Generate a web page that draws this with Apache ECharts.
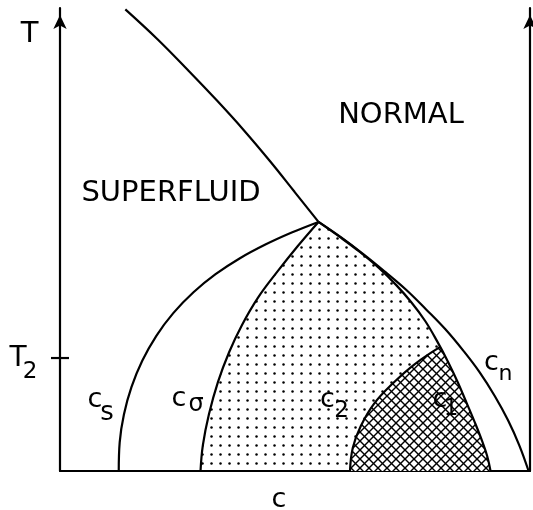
<!DOCTYPE html>
<html>
<head>
<meta charset="utf-8">
<script src="https://cdn.jsdelivr.net/npm/echarts@6/dist/echarts.min.js"></script>
<style>
  html, body { margin: 0; padding: 0; background: #fff; }
  #chart { width: 533px; height: 510px; }
</style>
</head>
<body>
<div id="chart"></div>
<script>
// Phase diagram: concentration c (x) against temperature T (y), both on a 0..1 scale.
// Each boundary runs from the tricritical point downward (or from the top down to it).
const lambdaLine = [[0.139, 0.997], [0.208, 0.932], [0.272, 0.866], [0.334, 0.800],
                    [0.392, 0.735], [0.447, 0.669], [0.499, 0.603], [0.550, 0.538]];
const csCurve = [[0.550, 0.538], [0.493, 0.515], [0.437, 0.489], [0.382, 0.459], [0.331, 0.425],
                 [0.284, 0.386], [0.241, 0.341], [0.205, 0.292], [0.175, 0.238], [0.152, 0.181],
                 [0.136, 0.122], [0.127, 0.062], [0.125, 0.000]];
const cSigmaCurve = [[0.550, 0.538], [0.506, 0.486], [0.462, 0.430], [0.421, 0.374], [0.387, 0.315],
                     [0.360, 0.257], [0.336, 0.192], [0.317, 0.123], [0.304, 0.056], [0.299, 0.000]];
const cnCurve = [[0.550, 0.538], [0.599, 0.504], [0.646, 0.468], [0.692, 0.430], [0.737, 0.391],
                 [0.779, 0.349], [0.820, 0.306], [0.858, 0.260], [0.893, 0.213], [0.925, 0.162],
                 [0.953, 0.110], [0.977, 0.056], [0.997, 0.000]];
const c2Curve = [[0.550, 0.538], [0.596, 0.505], [0.638, 0.473], [0.679, 0.438], [0.715, 0.402],
                 [0.747, 0.365], [0.777, 0.324], [0.802, 0.281], [0.826, 0.235], [0.847, 0.190],
                 [0.866, 0.145], [0.883, 0.104], [0.898, 0.065], [0.909, 0.032], [0.916, 0.000]];
const c1Curve = [[0.809, 0.268], [0.755, 0.231], [0.709, 0.190], [0.668, 0.145], [0.640, 0.097],
                 [0.623, 0.050], [0.617, 0.000]];
const tickT2 = [0.244];

const FONT = '"DejaVu Sans", sans-serif';
const INK = '#000';

// Fill patterns: a square dot screen and a diagonal cross-hatch.
function dotPattern() {
  const cv = document.createElement('canvas');
  cv.width = 9; cv.height = 9;
  const g = cv.getContext('2d');
  g.fillStyle = INK;
  g.beginPath();
  g.arc(4.5, 4.5, 1.25, 0, Math.PI * 2);
  g.fill();
  return { image: cv, repeat: 'repeat' };
}
function hatchPattern() {
  const p = 9;
  const cv = document.createElement('canvas');
  cv.width = p; cv.height = p;
  const g = cv.getContext('2d');
  g.fillStyle = '#fff';
  g.fillRect(0, 0, p, p);
  g.strokeStyle = INK;
  g.lineWidth = 1.4;
  for (let k = -1; k <= 1; k++) {
    g.beginPath(); g.moveTo(k * p, 0); g.lineTo(k * p + p, p); g.stroke();
    g.beginPath(); g.moveTo(k * p + p, 0); g.lineTo(k * p, p); g.stroke();
  }
  return { image: cv, repeat: 'repeat' };
}

// Dotted two-phase region: between c_sigma and c2.
const dottedRegion = cSigmaCurve.concat(c2Curve.slice().reverse());
// Cross-hatched region: under c1, bounded on the right by c2.
const hatchedRegion = c1Curve.concat(
  c2Curve.filter(p => p[1] < c1Curve[0][1]).reverse()
);

function regionSeries(points, fill, z) {
  return {
    type: 'custom',
    silent: true,
    z: z,
    clip: false,
    data: [[0, 0]],
    renderItem: function (params, api) {
      return {
        type: 'polygon',
        shape: { points: points.map(p => api.coord(p)) },
        style: { fill: fill, stroke: null }
      };
    }
  };
}

function boundary(data) {
  return {
    type: 'line',
    data: data,
    smooth: 0.4,
    showSymbol: false,
    clip: false,
    silent: true,
    z: 5,
    lineStyle: { color: INK, width: 2.2 }
  };
}

const hiddenAxisParts = {
  axisTick: { show: false },
  axisLabel: { show: false },
  splitLine: { show: false }
};

const chart = echarts.init(document.getElementById('chart'), null, { renderer: 'canvas' });
chart.setOption({
  animation: false,
  backgroundColor: '#fff',
  grid: { left: 60, right: 3, top: 8, bottom: 39 },
  xAxis: Object.assign({
    type: 'value', min: 0, max: 1,
    axisLine: { show: true, lineStyle: { color: INK, width: 2.2 } }
  }, hiddenAxisParts),
  yAxis: [
    Object.assign({
      type: 'value', min: 0, max: 1, position: 'left',
      axisLine: { show: true, symbol: ['none', 'arrow'], symbolSize: [10, 14], symbolOffset: [0, -7],
                  lineStyle: { color: INK, width: 2.2 } }
    }, hiddenAxisParts),
    Object.assign({
      type: 'value', min: 0, max: 1, position: 'right',
      axisLine: { show: true, symbol: ['none', 'arrow'], symbolSize: [10, 14], symbolOffset: [0, -7],
                  lineStyle: { color: INK, width: 2.2 } }
    }, hiddenAxisParts)
  ],
  series: [
    regionSeries(dottedRegion, dotPattern(), 1),
    regionSeries(hatchedRegion, hatchPattern(), 2),
    boundary(lambdaLine),
    boundary(csCurve),
    boundary(cSigmaCurve),
    boundary(cnCurve),
    boundary(c2Curve),
    boundary(c1Curve)
  ]
});

// Labels, the T2 tick and its label.
const yT2 = chart.convertToPixel({ yAxisIndex: 0 }, tickT2[0]);
const xAxisPx = chart.convertToPixel({ xAxisIndex: 0 }, 0);

function txt(s, x, y, size) {
  return {
    type: 'text', x: x, y: y, z: 10, silent: true,
    style: { text: s, font: size + 'px ' + FONT, fill: INK,
             align: 'center', verticalAlign: 'middle',
             textAlign: 'center', textVerticalAlign: 'middle' }
  };
}

chart.setOption({
  graphic: [
    { type: 'line', silent: true, z: 10,
      shape: { x1: xAxisPx - 9, y1: yT2, x2: xAxisPx + 9, y2: yT2 },
      style: { stroke: INK, lineWidth: 2.2 } },
    txt('T', 18, yT2 + 1, 28),
    txt('2', 30, yT2 + 14, 23),
    txt('T', 29.5, 34, 29),
    txt('NORMAL', 401, 115, 29),
    txt('SUPERFLUID', 171, 193, 29),
    txt('c', 279, 500, 27),
    txt('c', 95, 400, 27),
    txt('s', 107, 413, 26),
    txt('c', 179, 399, 27),
    txt('\u03c3', 196, 405, 24),
    txt('c', 327.5, 400, 27),
    txt('2', 341.5, 411, 23),
    txt('c', 440, 400, 27),
    txt('1', 451, 409, 23),
    txt('c', 491.5, 363, 27),
    txt('n', 505.5, 374, 22)
  ]
});
</script>
</body>
</html>
